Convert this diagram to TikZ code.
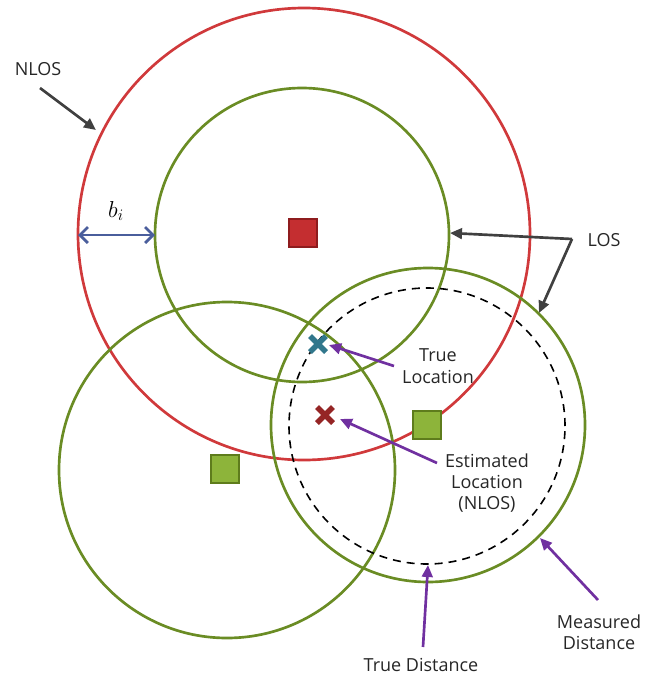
\documentclass[tikz,border=0pt]{standalone}
\usepackage{fontspec}
\setmainfont{Open Sans}
\usetikzlibrary{arrows.meta,calc}
\definecolor{redc}{HTML}{D0393B}
\definecolor{greenc}{HTML}{6A8C24}
\definecolor{sqgreen}{HTML}{8DB43A}
\definecolor{sqgreenb}{HTML}{5E7C1C}
\definecolor{sqred}{HTML}{C42E30}
\definecolor{sqredb}{HTML}{8E1C1E}
\definecolor{bluec}{HTML}{4A5E9C}
\definecolor{purplec}{HTML}{7030A0}
\definecolor{darkc}{HTML}{404040}
\definecolor{tealc}{HTML}{31778C}
\definecolor{xred}{HTML}{952525}
\tikzset{
  circ/.style={line width=2pt},
  sq/.style={minimum size=21pt, inner sep=0pt, line width=1.8pt},
  lbl/.style={font=\fontsize{13.5}{16}\selectfont, align=center, inner sep=1pt, text=black!85},
  darrow/.style={darkc, line width=2pt, -{Triangle[length=9pt,width=8pt]}},
  parrow/.style={purplec, line width=2pt, -{Triangle[length=9pt,width=8pt]}},
  xmark/.style={line width=4pt},
}
\begin{document}
\begin{tikzpicture}[x=0.75pt,y=-0.75pt]
\useasboundingbox (0,0) rectangle (645,678);
% circles
\node[circ, draw=redc, circle, minimum size=452*0.75pt, inner sep=0pt] (nlos) at (304,234) {};
\node[circ, draw=greenc, circle, minimum size=294*0.75pt, inner sep=0pt] (los1) at (302,235) {};
\node[circ, draw=greenc, circle, minimum size=336*0.75pt, inner sep=0pt] (los2) at (227,470) {};
\node[circ, draw=greenc, circle, minimum size=314*0.75pt, inner sep=0pt] (meas) at (428,425) {};
\node[line width=1.2pt, draw=black, dash pattern=on 6pt off 4.5pt, circle, minimum size=276*0.75pt, inner sep=0pt] (truec) at (427,426) {};
% anchors
\node[sq, fill=sqred, draw=sqredb] (rsq) at (303,233) {};
\node[sq, fill=sqgreen, draw=sqgreenb] (gsq1) at (427,425) {};
\node[sq, fill=sqgreen, draw=sqgreenb] (gsq2) at (225,469) {};
% x marks
\coordinate (tx) at (318,344);
\coordinate (ex) at (325,415);
\draw[xmark, tealc] ($(tx)+(-8,-8)$) -- ($(tx)+(8,8)$) ($(tx)+(-8,8)$) -- ($(tx)+(8,-8)$);
\draw[xmark, xred] ($(ex)+(-8,-8)$) -- ($(ex)+(8,8)$) ($(ex)+(-8,8)$) -- ($(ex)+(8,-8)$);
% b_i
\coordinate (bl) at (78,235);
\coordinate (br) at (155,235);
\draw[bluec, line width=2pt, {Straight Barb[length=6pt,width=12pt]}-{Straight Barb[length=6pt,width=12pt]}] (bl) -- (br);
\node[font=\fontsize{17}{19}\selectfont] (bi) at (116,211) {$b_i$};
% labels
\node[lbl] (nlosl) at (38,69) {NLOS};
\node[lbl] (losl) at (604,240) {LOS};
\node[lbl] (truel) at (438,366) {True\\Location};
\node[lbl] (estl) at (487,483) {Estimated\\Location\\(NLOS)};
\node[lbl] (tdl) at (421,665) {True Distance};
\node[lbl] (mdl) at (599,632) {Measured\\Distance};
% dark arrows
\coordinate (nlosa) at (40,88);
\coordinate (nlosb) at (96,130);
\draw[darrow] (nlosa) -- (nlosb);
\coordinate (losj) at (572,239);
\coordinate (losa) at (450,233);
\coordinate (losb) at (539,313);
\draw[darrow] (losj) -- (losa);
\draw[darrow] (losj) -- (losb);
% purple arrows
\coordinate (ta) at (394,366);
\coordinate (tb) at (329,345);
\draw[parrow] (ta) -- (tb);
\coordinate (ea) at (437,463);
\coordinate (eb) at (340,419);
\draw[parrow] (ea) -- (eb);
\coordinate (da) at (423,647);
\coordinate (db) at (428,565);
\draw[parrow] (da) -- (db);
\coordinate (ma) at (598,600);
\coordinate (mb) at (540,538);
\draw[parrow] (ma) -- (mb);
\end{tikzpicture}
\end{document}
